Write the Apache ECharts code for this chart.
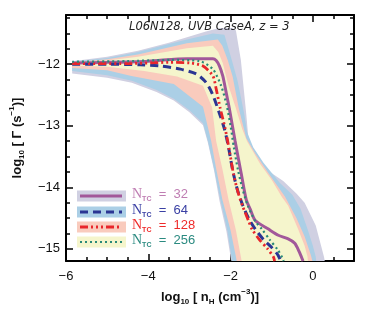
<!DOCTYPE html>
<html><head><meta charset="utf-8">
<script src="https://cdn.jsdelivr.net/npm/echarts@6/dist/echarts.min.js"></script>
<style>html,body{margin:0;padding:0;background:#fff}#c{width:374px;height:311px}</style>
</head><body><div id="c"></div>
<script>
// ---- tick values ----
const xMajorTicks = [-6, -4, -2, 0];
const xMinorTicks = [-5.5, -5, -4.5, -3.5, -3, -2.5, -1.5, -1, -0.5, 0.5];
const yMajorTicks = [-15, -14, -13, -12];
const yMinorTicks = [-14.75, -14.5, -14.25, -13.75, -13.5, -13.25, -12.75, -12.5, -12.25, -11.75, -11.5, -11.25];

// ---- legend labels ----
const legendValues = ['32', '64', '128', '256'];

// ---- median lines [log nH, log Gamma] ----
const line32 = [[-5.85,-11.98],[-5,-11.97],[-4,-11.95],[-3.06,-11.91],[-2.43,-11.91],[-2.35,-11.94],[-2.27,-12.03],[-2.19,-12.19],[-2.11,-12.45],[-2.03,-12.72],[-1.89,-13.25],[-1.74,-13.78],[-1.62,-14.2],[-1.52,-14.36],[-1.4,-14.54],[-1.08,-14.68],[-0.84,-14.78],[-0.6,-14.84],[-0.44,-14.91],[-0.33,-15.05],[-0.25,-15.18],[-0.24,-15.2]];
const line64 = [[-5.85,-12.0],[-5,-12.0],[-4.2,-12.01],[-3.7,-12.03],[-3.22,-12.08],[-2.83,-12.16],[-2.59,-12.3],[-2.43,-12.5],[-2.27,-12.8],[-2.15,-13.05],[-2.05,-13.35],[-1.95,-13.72],[-1.83,-14.05],[-1.7,-14.3],[-1.55,-14.52],[-1.4,-14.68],[-1.2,-14.85],[-1.0,-14.98],[-0.85,-15.1],[-0.78,-15.2]];
const line128 = [[-5.85,-11.99],[-4.5,-11.99],[-3.5,-11.97],[-2.98,-11.98],[-2.67,-12.03],[-2.43,-12.19],[-2.35,-12.4],[-2.25,-12.72],[-2.13,-13.05],[-2.03,-13.4],[-1.93,-13.78],[-1.82,-14.08],[-1.7,-14.32],[-1.56,-14.55],[-1.48,-14.68],[-1.3,-14.85],[-1.1,-15.0],[-0.96,-15.13],[-0.93,-15.2]];
const line256 = [[-5.85,-11.96],[-4.5,-11.95],[-3.46,-11.93],[-2.75,-11.95],[-2.43,-12.08],[-2.23,-12.35],[-2.1,-12.65],[-2.0,-13.0],[-1.92,-13.35],[-1.82,-13.72],[-1.7,-14.05],[-1.58,-14.3],[-1.4,-14.55],[-1.24,-14.68],[-1.05,-14.85],[-0.85,-15.02],[-0.74,-15.15],[-0.71,-15.2]];

// ---- scatter bands: upper and lower envelopes ----
const upper32 = [[-5.85,-11.95],[-5,-11.88],[-4.25,-11.78],[-3.5,-11.65],[-3.0,-11.55],[-2.6,-11.47],[-2.27,-11.41],[-1.95,-11.41],[-1.87,-11.45],[-1.75,-11.93],[-1.68,-12.4],[-1.62,-12.8],[-1.56,-13.25],[-1.4,-13.5],[-1.16,-13.7],[-0.72,-13.9],[-0.4,-14.1],[-0.2,-14.25],[0.07,-14.62],[0.2,-14.95],[0.27,-15.13],[0.29,-15.2]];
const lower32 = [[-5.85,-12.15],[-5,-12.22],[-4.4,-12.3],[-3.8,-12.45],[-3.38,-12.59],[-3.0,-12.78],[-2.67,-12.99],[-2.55,-13.28],[-2.4,-13.73],[-2.27,-14.22],[-2.1,-14.72],[-2.0,-15.13],[-1.98,-15.2]];
const upper64 = [[-5.85,-11.96],[-5,-11.9],[-4.25,-11.8],[-3.5,-11.67],[-3.06,-11.6],[-2.43,-11.5],[-2.15,-11.52],[-2.05,-11.75],[-1.95,-11.98],[-1.83,-12.27],[-1.67,-12.8],[-1.6,-13.1],[-1.45,-13.35],[-1.2,-13.6],[-0.8,-13.93],[-0.5,-14.12],[-0.3,-14.35],[-0.13,-14.68],[0.0,-14.95],[0.07,-15.13],[0.08,-15.2]];
const lower64 = [[-5.85,-12.11],[-5,-12.18],[-4.4,-12.27],[-3.8,-12.42],[-3.38,-12.56],[-3.0,-12.75],[-2.67,-12.96],[-2.55,-13.25],[-2.4,-13.7],[-2.25,-14.2],[-2.08,-14.7],[-1.98,-15.13],[-1.96,-15.2]];
const upper128 = [[-5.85,-11.97],[-5,-11.92],[-4.25,-11.84],[-3.06,-11.66],[-2.31,-11.6],[-2.2,-11.7],[-2.07,-11.93],[-1.95,-12.2],[-1.8,-12.72],[-1.62,-13.2],[-1.4,-13.45],[-1.1,-13.75],[-0.68,-14.15],[-0.4,-14.5],[-0.2,-14.8],[-0.05,-15.1],[-0.01,-15.2]];
const lower128 = [[-5.85,-12.06],[-5,-12.1],[-4.41,-12.19],[-3.38,-12.32],[-2.67,-12.69],[-2.47,-13.25],[-2.35,-13.7],[-2.2,-14.2],[-2.0,-14.7],[-1.87,-15.13],[-1.85,-15.2]];
const upper256 = [[-5.85,-11.98],[-5,-11.94],[-4.25,-11.88],[-3.06,-11.74],[-2.43,-11.7],[-2.3,-11.8],[-2.19,-11.98],[-2.05,-12.35],[-1.87,-12.72],[-1.72,-13.05],[-1.6,-13.25],[-1.28,-13.62],[-1.0,-13.88],[-0.76,-14.15],[-0.6,-14.3],[-0.36,-14.68],[-0.2,-14.95],[-0.13,-15.13],[-0.12,-15.2]];
const lower256 = [[-5.85,-12.02],[-5,-12.04],[-4.1,-12.11],[-3.3,-12.2],[-2.67,-12.35],[-2.45,-12.7],[-2.35,-13.25],[-2.2,-13.7],[-2.05,-14.2],[-1.87,-14.7],[-1.75,-15.13],[-1.73,-15.2]];

const bandColors = ['#d0d0e2', '#abcfe6', '#f9cbbd', '#f5f5cc'];
const lineColors = ['#a2589a', '#2b3593', '#e8262b', '#2a8a78'];
const textColors = ['#bf7db2', '#3a40a4', '#ef2a2a', '#2a8a80'];
const lineTypes = ['solid', [8, 5], [8, 3, 2, 3, 2, 3, 2, 3], [2, 3]];
const lineWidths = [3, 3, 2.8, 2.2];

const bands = [[upper32, lower32], [upper64, lower64], [upper128, lower128], [upper256, lower256]];
const lines = [line32, line64, line128, line256];

const chart = echarts.init(document.getElementById('c'), null, {renderer: 'canvas'});
const fmt = v => String(v).replace('-', '\u2212');
const AX = {fontFamily: 'Liberation Sans', fontSize: 13, color: '#111'};

function xAxisDef(pos, ticks, len, main) {
  return {
    type: 'value', position: pos, min: -6, max: 1, gridIndex: 0,
    axisLine: {show: main, onZero: false, lineStyle: {color: '#000', width: 2}},
    axisTick: {show: true, inside: true, length: len, customValues: ticks, lineStyle: {color: '#000', width: 1.5}},
    axisLabel: pos === 'bottom' && main ? Object.assign({show: true, customValues: xMajorTicks, formatter: fmt, margin: 9}, AX) : {show: false},
    splitLine: {show: false}
  };
}
function yAxisDef(pos, ticks, len, main) {
  return {
    type: 'value', position: pos, min: -15.2, max: -11.2, gridIndex: 0,
    axisLine: {show: main, onZero: false, lineStyle: {color: '#000', width: 2}},
    axisTick: {show: true, inside: true, length: len, customValues: ticks, lineStyle: {color: '#000', width: 1.5}},
    axisLabel: pos === 'left' && main ? Object.assign({show: true, customValues: yMajorTicks, formatter: fmt, margin: 6}, AX) : {show: false},
    splitLine: {show: false}
  };
}

const xAxes = [xAxisDef('bottom', xMajorTicks, 7, true), xAxisDef('bottom', xMinorTicks, 4, false), xAxisDef('top', xMajorTicks, 7, true), xAxisDef('top', xMinorTicks, 4, false)];
const yAxes = [yAxisDef('left', yMajorTicks, 7, true), yAxisDef('left', yMinorTicks, 4, false), yAxisDef('right', yMajorTicks, 7, true), yAxisDef('right', yMinorTicks, 4, false)];

const nameRich = {
  b: {fontFamily: 'Liberation Sans', fontWeight: 'bold', fontSize: 13, color: '#111', lineHeight: 18},
  sub: {fontFamily: 'Liberation Sans', fontWeight: 'bold', fontSize: 8, color: '#111', lineHeight: 9, verticalAlign: 'bottom'},
  sup: {fontFamily: 'Liberation Sans', fontWeight: 'bold', fontSize: 8, color: '#111', lineHeight: 9, verticalAlign: 'top'}
};
xAxes[0].name = '{b|log}{sub|10}{b| [ n}{sub|H}{b| (cm}{sup|\u22123}{b|)]}';
xAxes[0].nameLocation = 'middle';
xAxes[0].nameGap = 22;
xAxes[0].nameTextStyle = {rich: nameRich};
yAxes[0].name = '{b|log}{sub|10}{b| [ \u0393 (s}{sup|\u22121}{b|)]}';
yAxes[0].nameLocation = 'middle';
yAxes[0].nameGap = 40;
yAxes[0].nameRotate = 90;
yAxes[0].nameTextStyle = {rich: nameRich};

const series = [];
bands.forEach((b, i) => {
  const pts = b[0].concat(b[1].slice().reverse());
  series.push({
    type: 'custom', xAxisIndex: 0, yAxisIndex: 0, silent: true, clip: true, z: 1,
    data: [pts[0]],
    renderItem: (params, api) => ({
      type: 'polygon',
      shape: {points: pts.map(p => api.coord(p))},
      style: {fill: bandColors[i]}
    })
  });
});
lines.forEach((d, i) => {
  series.push({
    type: 'line', xAxisIndex: 0, yAxisIndex: 0, data: d, showSymbol: false, smooth: 0.25, z: 3,
    lineStyle: {color: lineColors[i], width: lineWidths[i], type: lineTypes[i], cap: 'butt'}
  });
});

// legend built from arrays
const graphic = [];
const rowY = [196, 212, 227, 242];
legendValues.forEach((v, i) => {
  graphic.push({type: 'rect', left: 77, top: rowY[i] - 5.5, shape: {width: 49, height: 11}, style: {fill: bandColors[i]}, z: 10});
  graphic.push({type: 'line', shape: {x1: 80, y1: rowY[i], x2: 122, y2: rowY[i]}, style: {stroke: lineColors[i], lineWidth: lineWidths[i], lineDash: lineTypes[i] === 'solid' ? null : lineTypes[i]}, z: 11});
  graphic.push({type: 'text', left: 132, top: rowY[i] - 9, z: 11, style: {
    text: '{n|N}{s|TC}{e|  =  ' + v + '}',
    rich: {
      n: {fontFamily: 'Liberation Serif', fontSize: 14, fill: textColors[i], lineHeight: 18},
      s: {fontFamily: 'Liberation Sans', fontWeight: 'bold', fontSize: 7, fill: textColors[i], lineHeight: 8, verticalAlign: 'bottom'},
      e: {fontFamily: 'Liberation Sans', fontSize: 13, fill: textColors[i], lineHeight: 18}
    }
  }});
});
graphic.push({type: 'text', left: 129, top: 21, z: 11, style: {text: 'L06N128, UVB CaseA, z = 3', fontFamily: 'DejaVu Sans', fontStyle: 'italic', fontSize: 11.5, fill: '#222'}});

chart.setOption({
  animation: false,
  backgroundColor: '#fff',
  grid: {left: 60, right: 20, top: 15, bottom: 44, containLabel: false},
  xAxis: xAxes,
  yAxis: yAxes,
  series: series,
  graphic: graphic
});
</script></body></html>
